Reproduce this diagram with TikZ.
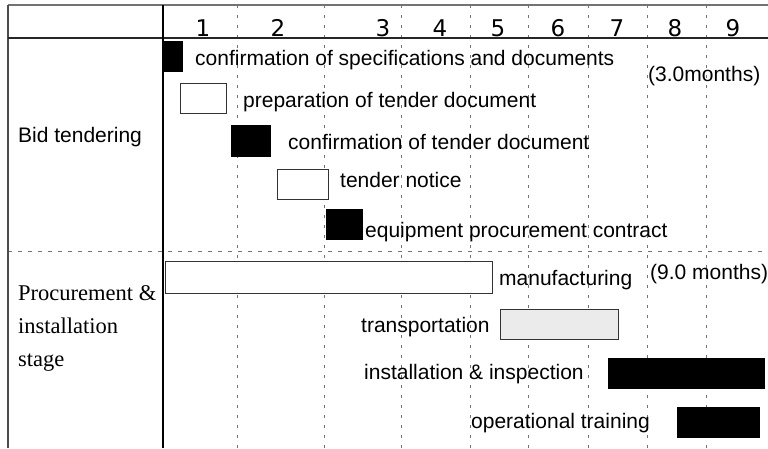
\documentclass[tikz,border=0pt]{standalone}
\usepackage{fontspec}
\setmainfont{Liberation Serif}
\newfontfamily\lblsans{Liberation Sans}
\newfontfamily\digfont{DejaVu Sans}
\begin{document}
\begin{tikzpicture}[x=1pt,y=-1pt,
  lbl/.style={anchor=base west, inner sep=0pt, font=\lblsans\fontsize{21pt}{24pt}\selectfont},
  serlbl/.style={anchor=base west, inner sep=0pt, font=\rmfamily\fontsize{22.5pt}{26pt}\selectfont},
  dig/.style={anchor=base, inner sep=0pt, font=\digfont\fontsize{23pt}{26pt}\selectfont},
  blackbar/.style={fill=black, draw=black, line width=0.4pt, inner sep=0pt, anchor=north west},
  whitebar/.style={fill=white, draw=black!80, line width=1pt, inner sep=0pt, anchor=north west},
  greybar/.style={fill=black!8, draw=black!80, line width=1pt, inner sep=0pt, anchor=north west},
  vgrid/.style={draw=black!55, line width=0.8pt, dash pattern=on 3pt off 7pt},
  hgrid/.style={draw=black!55, line width=0.8pt, dash pattern=on 4pt off 6pt}]
\useasboundingbox (0,0) rectangle (768,448);
% grid columns
\foreach \xx in {237,324,401,470,528,588,647,706} {
  \draw[vgrid] (\xx,5) -- (\xx,448);
}
\draw[hgrid] (8,251) -- (768,251);
% frame lines
\coordinate (tl) at (8,5); \coordinate (tr) at (768,5);
\coordinate (hl) at (8,38); \coordinate (hr) at (768,38);
\coordinate (bl) at (8,448);
\coordinate (st) at (163,5); \coordinate (sb) at (163,448);
\draw[black!55, line width=1.5pt] (tl) -- (tr);
\draw[black!70, line width=1.5pt] (tl) -- (bl);
\draw[black!85, line width=1.2pt] (hl) -- (hr);
\draw[black, line width=1.2pt] (st) -- (sb);
% header digits
\node[dig] (d1) at (203,36.5) {1};
\node[dig] (d2) at (278,36.5) {2};
\node[dig] (d3) at (383,36.5) {3};
\node[dig] (d4) at (440,36.5) {4};
\node[dig] (d5) at (498,36.5) {5};
\node[dig] (d6) at (558,36.5) {6};
\node[dig] (d7) at (617,36.5) {7};
\node[dig] (d8) at (675,36.5) {8};
\node[dig] (d9) at (733,36.5) {9};
% bars
\node[blackbar, minimum width=18pt, minimum height=30pt] (b1) at (164,41) {};
\node[whitebar, minimum width=46pt, minimum height=30pt] (b2) at (180,83) {};
\node[blackbar, minimum width=39pt, minimum height=31pt] (b3) at (231,125) {};
\node[whitebar, minimum width=51pt, minimum height=30pt] (b4) at (277,169) {};
\node[blackbar, minimum width=36pt, minimum height=30pt] (b5) at (326,209) {};
\node[whitebar, minimum width=327pt, minimum height=32pt] (b6) at (165,261) {};
\node[greybar, minimum width=118pt, minimum height=30pt] (b7) at (500,309) {};
\node[blackbar, minimum width=156pt, minimum height=30pt] (b8) at (608,358) {};
\node[blackbar, minimum width=82pt, minimum height=30pt] (b9) at (677,407) {};
% labels
\node[lbl] (t1) at (195,65) {confirmation of specifications and documents};
\node[lbl] (m1) at (648,81) {(3.0months)};
\node[lbl] (t2) at (243,107) {preparation of tender document};
\node[lbl] (t3) at (288,149) {confirmation of tender document};
\node[lbl] (t4) at (340,187) {tender notice};
\node[lbl] (t5) at (365,237) {equipment procurement contract};
\node[lbl] (g1) at (18,142) {Bid tendering};
\node[lbl] (t6) at (499,285) {manufacturing};
\node[lbl] (m2) at (650,279) {(9.0 months)};
\node[lbl] (t7) at (361,332) {transportation};
\node[lbl] (t8) at (364,379) {installation \& inspection};
\node[lbl] (t9) at (471,428) {operational training};
\node[serlbl] (g2a) at (18,300) {Procurement \&};
\node[serlbl] (g2b) at (18,333) {installation};
\node[serlbl] (g2c) at (18,366) {stage};
\end{tikzpicture}
\end{document}
